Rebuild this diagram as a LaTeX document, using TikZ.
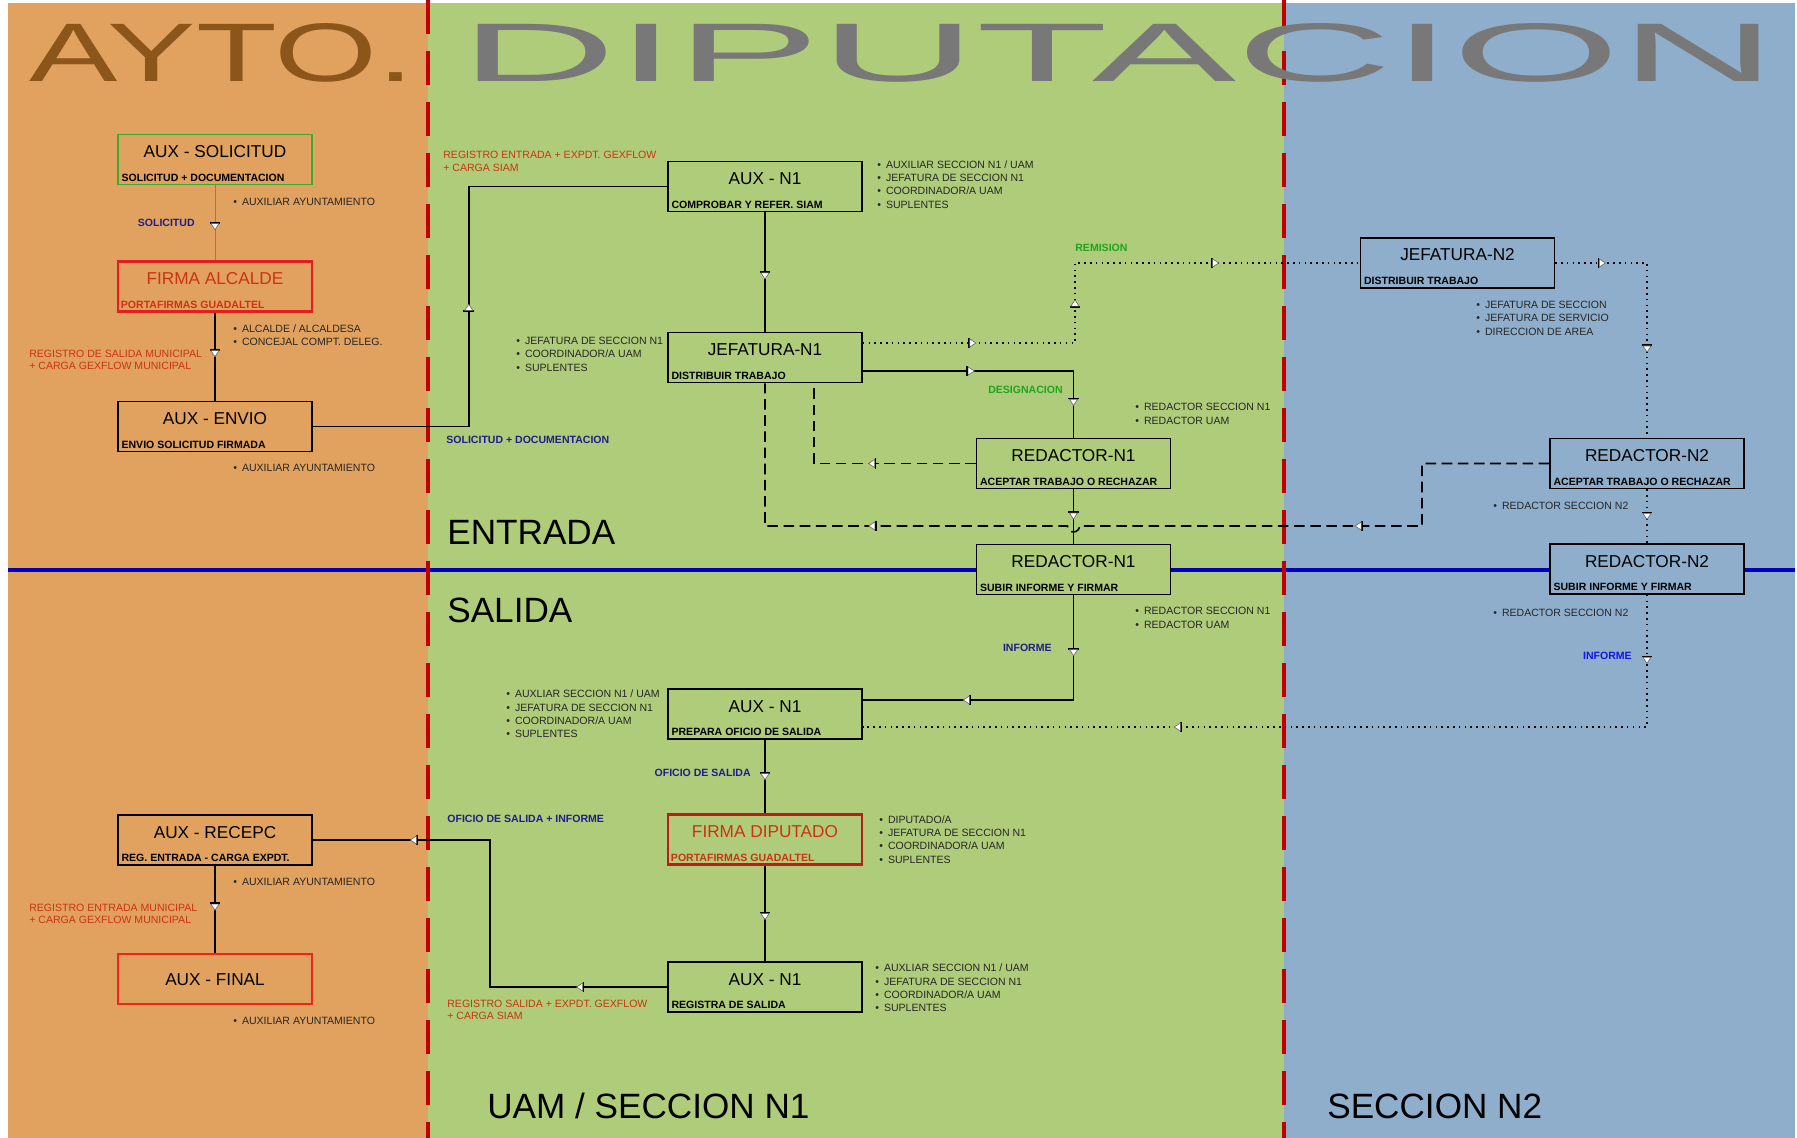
\documentclass[tikz,border=0pt]{standalone}
\usepackage{fontspec}
\setmainfont{Liberation Sans}
\usepackage{graphicx}
\usetikzlibrary{positioning}

\definecolor{ayto}{RGB}{225,162,95}
\definecolor{dipu}{RGB}{175,204,122}
\definecolor{secc}{RGB}{142,174,204}
\definecolor{sepred}{RGB}{192,0,0}
\definecolor{tbrown}{RGB}{140,86,26}
\definecolor{tgray}{RGB}{120,120,120}
\definecolor{lblred}{RGB}{204,51,17}
\definecolor{lblnavy}{RGB}{30,30,140}
\definecolor{lblblue}{RGB}{20,20,230}
\definecolor{lblgreen}{RGB}{30,165,30}
\definecolor{boxgreen}{RGB}{60,170,50}
\definecolor{boxred}{RGB}{228,30,30}
\definecolor{titred}{RGB}{205,50,20}
\definecolor{linblue}{RGB}{0,0,190}

\newcommand{\itm}{\textbullet\hspace{0.1cm}}

\begin{document}
\begin{tikzpicture}[
    x=0.02cm, y=-0.02cm,
      box/.style={draw, fill=#1, rectangle, line width=0.9pt, minimum width=3.88cm, minimum height=1cm, inner sep=0pt, text height=0.46cm, text depth=0.54cm, font=\fontsize{9.8}{11}\selectfont},
      redbox/.style={box=#1, draw=boxred, line width=1.6pt, text=titred},
      sub/.style={anchor=south west, inner xsep=0.08cm, inner ysep=0.07cm, minimum width=0pt, minimum height=0pt, text height=, text depth=, font=\fontsize{6}{7}\selectfont\bfseries},
      bul/.style={anchor=west, align=left, inner sep=0pt, text=black!85, font=\fontsize{6}{7.65}\selectfont},
      lbl/.style={align=left, inner sep=0pt, font=\fontsize{6}{7.1}\selectfont},
      blbl/.style={lbl, font=\fontsize{6}{7}\selectfont\bfseries},
      heading/.style={anchor=base west, inner sep=0pt, font=\fontsize{20}{24}\selectfont},
      con/.style={draw, line width=0.9pt, black},
      thincon/.style={draw, line width=0.5pt, black!50},
      dotcon/.style={draw, line width=0.9pt, dash pattern=on 0.9pt off 2.4pt},
      dashcon/.style={draw, line width=0.9pt, dash pattern=on 6pt off 3.2pt},
      mkat/.style={pos=#1, sloped, allow upside down},
      mk/.pic={\draw[solid, line width=1pt, black] (0pt,-3.1pt) -- (0pt,3.1pt);
               \filldraw[solid, fill=white, draw=black!60, line width=0.35pt] (0.5pt,-2.3pt) -- (4pt,0pt) -- (0.5pt,2.3pt) -- cycle;}
  ]
      \useasboundingbox (0,0) rectangle (1797,1138);
      \fill[white] (0,0) rectangle (1797,1138);

      % Columns
      \fill[ayto] (8,3) rectangle (428,1138);
      \fill[dipu] (428,3) rectangle (1284,1138);
      \fill[secc] (1284,3) rectangle (1795,1138);

      % Entrada / salida
      \draw[linblue, line width=2pt] (8,570) -- (1795,570);

      % Separators
      \draw[sepred, line width=2.5pt, dash pattern=on 0.68cm off 0.34cm] (428,0) -- (428,1138);
      \draw[sepred, line width=2.5pt, dash pattern=on 0.68cm off 0.34cm] (1284,0) -- (1284,1138);

      % Titles
      \node[anchor=south west, inner sep=0pt, text=tbrown] (tayto) at (29,83) {\resizebox{7.7cm}{1.16cm}{AYTO.}};
      \node[anchor=south west, inner sep=0pt, text=tgray] (tdipu) at (460,83) {\resizebox{26.3cm}{1.16cm}{DIPUTACION}};

      % Ayuntamiento
      \node[box=ayto, draw=boxgreen, label={[sub]south west:SOLICITUD + DOCUMENTACION}] (sol) at (215,159.5) {AUX - SOLICITUD};
      \node[redbox=ayto, label={[sub, text=titred]south west:PORTAFIRMAS GUADALTEL}] (alc) at (215,286.5) {FIRMA ALCALDE};
      \node[box=ayto, label={[sub]south west:ENVIO SOLICITUD FIRMADA}] (env) at (215,426.5) {AUX - ENVIO};
      \node[box=ayto, label={[sub]south west:REG. ENTRADA - CARGA EXPDT.}] (rec) at (215,840) {AUX - RECEPC};
      \node[box=ayto, draw=boxred!90!orange, line width=1.2pt, text height=0.62cm, text depth=0.38cm] (fin) at (215,979) {AUX - FINAL};

      % Seccion N1
      \node[box=dipu, label={[sub]south west:COMPROBAR Y REFER. SIAM}] (auxa) at (765,186.5) {AUX - N1};
      \node[box=dipu, label={[sub]south west:DISTRIBUIR TRABAJO}] (jef1) at (765,357.5) {JEFATURA-N1};
      \node[box=dipu, label={[sub]south west:ACEPTAR TRABAJO O RECHAZAR}] (red1a) at (1073.5,463.5) {REDACTOR-N1};
      \node[box=dipu, label={[sub]south west:SUBIR INFORME Y FIRMAR}] (red1b) at (1073.5,569.5) {REDACTOR-N1};
      \node[box=dipu, label={[sub]south west:PREPARA OFICIO DE SALIDA}] (auxb) at (765,714) {AUX - N1};
      \node[redbox=dipu, draw=boxred!85!black, label={[sub, text=titred]south west:PORTAFIRMAS GUADALTEL}] (firdip) at (765,839.5) {FIRMA DIPUTADO};
      \node[box=dipu, label={[sub]south west:REGISTRA DE SALIDA}] (auxc) at (765,987) {AUX - N1};

      % Seccion N2
      \node[box=secc, label={[sub]south west:DISTRIBUIR TRABAJO}] (jef2) at (1457.5,263) {JEFATURA-N2};
      \node[box=secc, label={[sub]south west:ACEPTAR TRABAJO O RECHAZAR}] (red2a) at (1647,463.5) {REDACTOR-N2};
      \node[box=secc, label={[sub]south west:SUBIR INFORME Y FIRMAR}] (red2b) at (1647,569) {REDACTOR-N2};

      % Connectors
      \draw[thincon] (sol.south) -- pic[mkat=0.5]{mk} (alc.north);
      \draw[con] (alc.south) -- pic[mkat=0.42]{mk} (env.north);
      \draw[con] (env.east) -- ++(156,0) |- pic[mkat=0.24]{mk} (auxa.west);
      \draw[con] (auxa.south) -- pic[mkat=0.5]{mk} (jef1.north);

      \coordinate (rem1) at (1075,343);
      \draw[dotcon] (jef1.east |- rem1) -- pic[mkat=0.5]{mk} (rem1) |- pic[mkat=0.225]{mk} pic[mkat=0.74]{mk} (jef2.west);
      \draw[dotcon] (jef2.east) -| pic[mkat=0.235]{mk} pic[mkat=0.735]{mk} (red2a.north);

      \coordinate (des1) at (1073.5,371);
      \draw[con] (jef1.east |- des1) -| pic[mkat=0.248]{mk} pic[mkat=0.706]{mk} (red1a.north);

      \draw[dashcon] (red1a.west) -| pic[mkat=0.31]{mk} ([xshift=0.98cm]jef1.south);
      \coordinate (rch2) at (1422,526);
      \coordinate (hop1) at (1079.5,526);
      \draw[dashcon] (red2a.west) -| (rch2) -- pic[mkat=0.175]{mk} (hop1)
          arc[start angle=0, end angle=180, radius=6] -| pic[mkat=0.317]{mk} (jef1.south);

      \draw[con] (red1a.south) -- pic[mkat=0.42]{mk} (red1b.north);
      \draw[dotcon] (red2a.south) -- pic[mkat=0.43]{mk} (red2b.north);

      \draw[con] (red1b.south) |- pic[mkat=0.255]{mk} pic[mkat=0.745]{mk} ([yshift=0.28cm]auxb.east);
      \draw[dotcon] (red2b.south) |- pic[mkat=0.233]{mk} pic[mkat=0.797]{mk} ([yshift=-0.26cm]auxb.east);

      \draw[con] (auxb.south) -- pic[mkat=0.45]{mk} (firdip.north);
      \draw[con] (firdip.south) -- pic[mkat=0.49]{mk} (auxc.north);

      \coordinate (ofi1) at (490,840);
      \draw[con] (auxc.west) -| pic[mkat=0.236]{mk} (ofi1) -- pic[mkat=0.41]{mk} (rec.east);
      \draw[con] (rec.south) -- pic[mkat=0.43]{mk} (fin.north);

      % Labels
      \node[blbl, text=lblnavy, anchor=east] (lsol) at (195,223) {SOLICITUD};
      \node[lbl, text=lblred, anchor=west] (lalc) at (29,360) {REGISTRO DE SALIDA MUNICIPAL\\+ CARGA GEXFLOW MUNICIPAL};
      \node[lbl, text=lblred, anchor=west] (lreg) at (443,161.5) {REGISTRO ENTRADA + EXPDT. GEXFLOW\\+ CARGA SIAM};
      \node[blbl, text=lblnavy, anchor=west] (lsdoc) at (446,440) {SOLICITUD + DOCUMENTACION};
      \node[blbl, text=lblgreen, anchor=west] (lrem) at (1075,248) {REMISION};
      \node[blbl, text=lblgreen, anchor=east] (ldes) at (1063,390) {DESIGNACION};
      \node[blbl, text=lblnavy, anchor=east] (linf1) at (1052,648) {INFORME};
      \node[blbl, text=lblblue, anchor=east] (linf2) at (1632,656) {INFORME};
      \node[blbl, text=lblnavy, anchor=east] (lofi) at (751,773) {OFICIO DE SALIDA};
      \node[blbl, text=lblnavy, anchor=west] (lofinf) at (447,819) {OFICIO DE SALIDA + INFORME};
      \node[lbl, text=lblred, anchor=west] (lrsal) at (447,1010) {REGISTRO SALIDA + EXPDT. GEXFLOW\\+ CARGA SIAM};
      \node[lbl, text=lblred, anchor=west] (lrmun) at (29,914) {REGISTRO ENTRADA MUNICIPAL\\+ CARGA GEXFLOW MUNICIPAL};

      % Roles
      \node[bul] (bsol) at (233,202) {\itm AUXILIAR AYUNTAMIENTO};
      \node[bul] (balc) at (233,335) {\itm ALCALDE / ALCALDESA\\\itm CONCEJAL COMPT. DELEG.};
      \node[bul] (benv) at (233,468) {\itm AUXILIAR AYUNTAMIENTO};
      \node[bul] (brec) at (233,882) {\itm AUXILIAR AYUNTAMIENTO};
      \node[bul] (bfin) at (233,1021) {\itm AUXILIAR AYUNTAMIENTO};
      \node[bul] (bauxa) at (877,184.5) {\itm AUXILIAR SECCION N1 / UAM\\\itm JEFATURA DE SECCION N1\\\itm COORDINADOR/A UAM\\\itm SUPLENTES};
      \node[bul] (bjef1) at (516,354) {\itm JEFATURA DE SECCION N1\\\itm COORDINADOR/A UAM\\\itm SUPLENTES};
      \node[bul] (bred1a) at (1135,414) {\itm REDACTOR SECCION N1\\\itm REDACTOR UAM};
      \node[bul] (bred1b) at (1135,618) {\itm REDACTOR SECCION N1\\\itm REDACTOR UAM};
      \node[bul] (bauxb) at (506,714) {\itm AUXLIAR SECCION N1 / UAM\\\itm JEFATURA DE SECCION N1\\\itm COORDINADOR/A UAM\\\itm SUPLENTES};
      \node[bul] (bfir) at (879,839.5) {\itm DIPUTADO/A\\\itm JEFATURA DE SECCION N1\\\itm COORDINADOR/A UAM\\\itm SUPLENTES};
      \node[bul] (bauxc) at (875,988) {\itm AUXLIAR SECCION N1 / UAM\\\itm JEFATURA DE SECCION N1\\\itm COORDINADOR/A UAM\\\itm SUPLENTES};
      \node[bul] (bjef2) at (1476,318) {\itm JEFATURA DE SECCION\\\itm JEFATURA DE SERVICIO\\\itm DIRECCION DE AREA};
      \node[bul] (bred2a) at (1493,506) {\itm REDACTOR SECCION N2};
      \node[bul] (bred2b) at (1493,613) {\itm REDACTOR SECCION N2};

      % Headings
      \node[heading] (hent) at (447,544) {ENTRADA};
      \node[heading] (hsal) at (447,622) {SALIDA};
      \node[heading] (huam) at (487,1118) {UAM / SECCION N1};
      \node[heading] (hsn2) at (1327,1118) {SECCION N2};
  \end{tikzpicture}
\end{document}
